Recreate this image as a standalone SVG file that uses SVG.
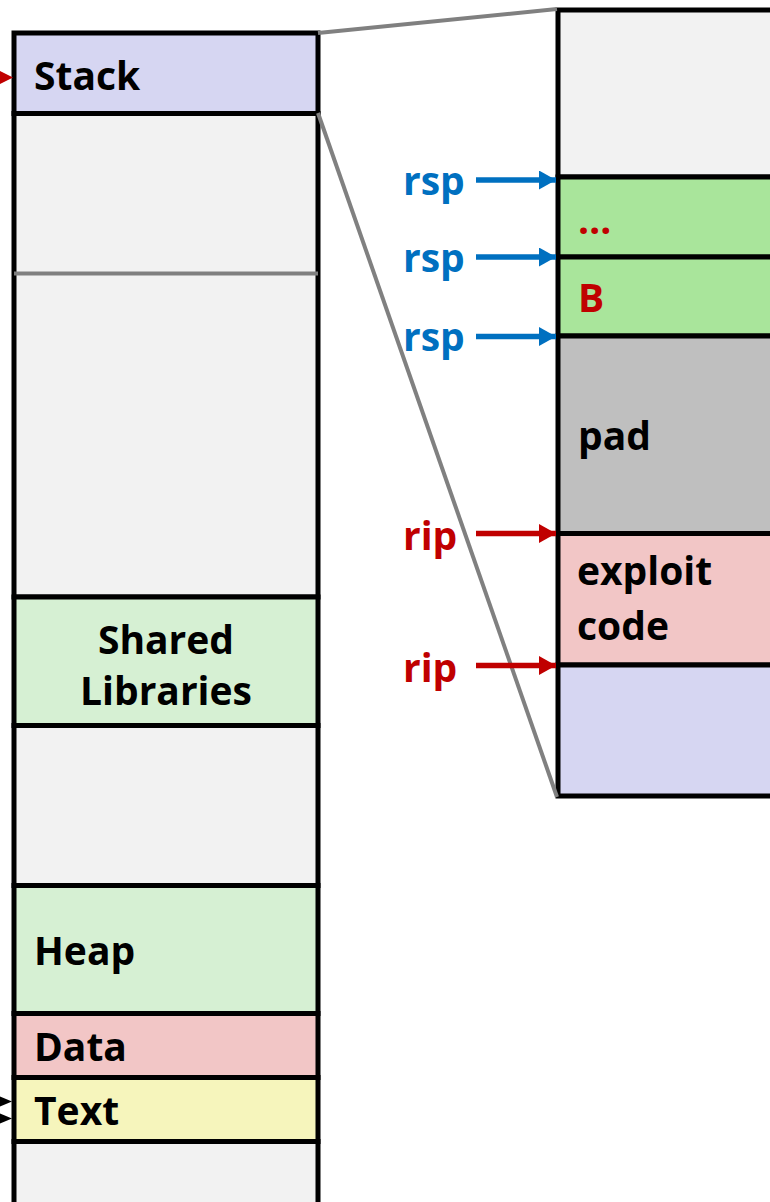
<svg xmlns="http://www.w3.org/2000/svg" width="770" height="1202" viewBox="0 0 770 1202">
  <defs>
    <style>
      .seg { stroke: #000; stroke-width: 5; }
      .lbl { font-family: "Open Sans", "Liberation Sans", sans-serif; font-weight: 700; font-size: 39px; fill: #000; }
      .blue { fill: #0070C0; }
      .red { fill: #C00000; }
      .zoom { stroke: #808080; stroke-width: 4; fill: none; }
      .rsp { stroke: #0070C0; stroke-width: 5.5; fill: none; }
      .rip { stroke: #C00000; stroke-width: 5.5; fill: none; }
      .empty { fill: #F2F2F2; }
      .lav { fill: #D6D6F2; }
      .lgreen { fill: #D6F0D3; }
      .pink { fill: #F2C6C6; }
      .yellow { fill: #F6F5BC; }
      .green { fill: #A9E59B; }
      .gray { fill: #BFBFBF; }
    </style>
    <marker id="headBlue" viewBox="0 0 17 19" refX="17" refY="9.5" markerWidth="17" markerHeight="19" markerUnits="userSpaceOnUse" orient="auto">
      <path d="M0,0 L17,9.5 L0,19 Z" fill="#0070C0"/>
    </marker>
    <marker id="headRed" viewBox="0 0 17 19" refX="17" refY="9.5" markerWidth="17" markerHeight="19" markerUnits="userSpaceOnUse" orient="auto">
      <path d="M0,0 L17,9.5 L0,19 Z" fill="#C00000"/>
    </marker>
  </defs>

  <rect width="770" height="1202" fill="#FFFFFF"/>

  <!-- Left column: memory layout -->
  <g id="left-column">
    <g id="stack"><rect class="seg lav" x="14" y="33" width="304" height="80.5"/><text class="lbl" x="34" y="90">Stack</text></g>
    <g id="gap1"><rect class="seg empty" x="14" y="113.5" width="304" height="483.5"/>
      <line x1="14" y1="273.5" x2="318" y2="273.5" stroke="#808080" stroke-width="4"/></g>
    <g id="shared-libraries"><rect class="seg lgreen" x="14" y="597" width="304" height="128.5"/>
      <text class="lbl" x="166" y="654" text-anchor="middle">Shared</text>
      <text class="lbl" x="166" y="705" text-anchor="middle">Libraries</text></g>
    <g id="gap2"><rect class="seg empty" x="14" y="725.5" width="304" height="160"/></g>
    <g id="heap"><rect class="seg lgreen" x="14" y="885.5" width="304" height="128"/><text class="lbl" x="34" y="965">Heap</text></g>
    <g id="data"><rect class="seg pink" x="14" y="1013.5" width="304" height="64"/><text class="lbl" x="34" y="1061">Data</text></g>
    <g id="text-seg"><rect class="seg yellow" x="14" y="1077.5" width="304" height="64"/><text class="lbl" x="34" y="1125">Text</text></g>
    <g id="gap3"><rect class="seg empty" x="14" y="1141.5" width="304" height="70"/></g>
  </g>

  <!-- Right column: zoomed stack -->
  <g id="right-column">
    <g id="stack-top"><rect class="seg empty" x="558" y="10" width="230" height="167"/></g>
    <g id="frame-dots"><rect class="seg green" x="558" y="177" width="230" height="80"/><text class="lbl red" x="578" y="234">…</text></g>
    <g id="frame-b"><rect class="seg green" x="558" y="257" width="230" height="79"/><text class="lbl red" x="578" y="312">B</text></g>
    <g id="pad"><rect class="seg gray" x="558" y="336" width="230" height="197.5"/><text class="lbl" x="578" y="450">pad</text></g>
    <g id="exploit-code"><rect class="seg pink" x="558" y="533.5" width="230" height="131.5"/>
      <text class="lbl" x="577" y="585">exploit</text><text class="lbl" x="577" y="640">code</text></g>
    <g id="stack-bottom"><rect class="seg lav" x="558" y="665" width="230" height="131"/></g>
  </g>

  <!-- Connectors -->
  <g id="connectors">
    <line class="zoom" x1="318" y1="33" x2="557" y2="9"/>
    <line class="zoom" x1="318" y1="113" x2="557" y2="797"/>
    <line class="rsp" x1="476" y1="180" x2="556" y2="180" marker-end="url(#headBlue)"/>
    <line class="rsp" x1="476" y1="257" x2="556" y2="257" marker-end="url(#headBlue)"/>
    <line class="rsp" x1="476" y1="336.5" x2="556" y2="336.5" marker-end="url(#headBlue)"/>
    <line class="rip" x1="476" y1="533.5" x2="556" y2="533.5" marker-end="url(#headRed)"/>
    <line class="rip" x1="476" y1="665.5" x2="556" y2="665.5" marker-end="url(#headRed)"/>
    <polygon points="-4,69 13,77.5 -4,86" fill="#C00000"/>
    <polygon points="-6,1094 12,1101.5 -6,1109" fill="#000"/>
    <polygon points="-6,1111 12,1118.5 -6,1126" fill="#000"/>
  </g>

  <!-- Pointer labels -->
  <g id="pointer-labels">
    <text class="lbl blue" x="403" y="195">rsp</text>
    <text class="lbl blue" x="403" y="272">rsp</text>
    <text class="lbl blue" x="403" y="351">rsp</text>
    <text class="lbl red" x="403" y="550">rip</text>
    <text class="lbl red" x="403" y="682">rip</text>
  </g>
</svg>
